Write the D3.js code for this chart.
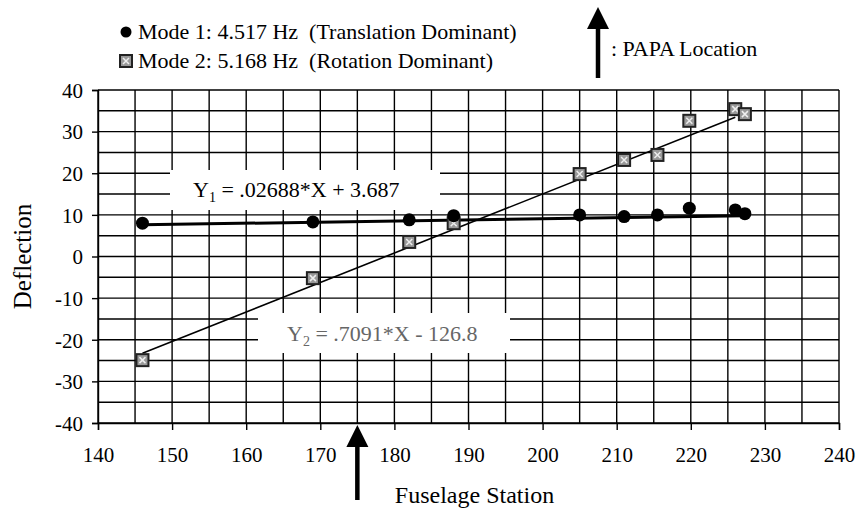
<!DOCTYPE html>
<html><head><meta charset="utf-8">
<script src="https://cdn.jsdelivr.net/npm/d3@7"></script>
<style>body{margin:0;background:#fff}svg{display:block}text{font-family:"Liberation Serif","Times New Roman",serif;fill:#000;white-space:pre}</style>
</head><body><svg id="c" width="860" height="517"></svg>
<script>
// ---- data ----
const mode1X = [146, 169, 182, 188, 205, 211, 215.5, 219.8, 226, 227.3];
const mode1Y = [8.0, 8.3, 8.8, 9.8, 10.0, 9.6, 10.0, 11.6, 11.2, 10.3];
const mode2X = [146, 169, 182, 188, 205, 211, 215.5, 219.8, 226, 227.3];
const mode2Y = [-24.9, -5.2, 3.5, 8.0, 19.8, 23.2, 24.4, 32.6, 35.4, 34.2];
const fit1 = [0.02688, 3.687];   // slope, intercept
const fit2 = [0.7091, -126.8];
const fitRange1 = [146, 227.3];
const fitRange2 = [146, 226];
const xTicks = [140,150,160,170,180,190,200,210,220,230,240];
const yTicks = [-40,-30,-20,-10,0,10,20,30,40];
const papaX = 175;
const legendLabels = ["Mode 1: 4.517 Hz  (Translation Dominant)", "Mode 2: 5.168 Hz  (Rotation Dominant)"];
const eq1 = ["Y", "1", " = .02688*X + 3.687"];
const eq2 = ["Y", "2", " = .7091*X - 126.8"];

const svg = d3.select("#c");
const L = 98, R = 839, T = 90, B = 423;
const x = d3.scaleLinear().domain([140, 240]).range([L, R]);
const y = d3.scaleLinear().domain([-40, 40]).range([B, T]);

// grid (every 5 units)
const g = svg.append("g").attr("stroke", "#000").attr("stroke-width", 1.4);
g.selectAll(".v").data(d3.range(140, 240.1, 5)).join("line")
  .attr("x1", d => x(d)).attr("x2", d => x(d)).attr("y1", y(-40)).attr("y2", y(40));
g.selectAll(".h").data(d3.range(-40, 40.1, 5)).join("line")
  .attr("y1", d => y(d)).attr("y2", d => y(d)).attr("x1", x(140)).attr("x2", x(240));

// axes
const fontT = 21;
const fmt = d => String(d);
const xa = svg.append("g").attr("transform", `translate(0,${B})`)
  .call(d3.axisBottom(x).tickValues(xTicks).tickSize(7).tickPadding(17).tickFormat(fmt));
const ya = svg.append("g").attr("transform", `translate(${L},0)`)
  .call(d3.axisLeft(y).tickValues(yTicks).tickSize(6).tickPadding(9).tickFormat(fmt));
[xa, ya].forEach(a => {
  a.select(".domain").attr("stroke", "#000").attr("stroke-width", 1.4);
  a.selectAll(".tick line").attr("stroke", "#000").attr("stroke-width", 1.4);
  a.selectAll(".tick text").attr("font-size", fontT).attr("font-family", '"Liberation Serif",serif').attr("fill", "#000");
});
ya.selectAll(".tick text").attr("dy", "0.35em");

// fit lines
svg.append("line")
  .attr("x1", x(fitRange2[0])).attr("y1", y(fit2[0]*fitRange2[0]+fit2[1]))
  .attr("x2", x(fitRange2[1])).attr("y2", y(fit2[0]*fitRange2[1]+fit2[1]))
  .attr("stroke", "#000").attr("stroke-width", 1.6);
svg.append("line")
  .attr("x1", x(fitRange1[0])).attr("y1", y(fit1[0]*fitRange1[0]+fit1[1]))
  .attr("x2", x(fitRange1[1])).attr("y2", y(fit1[0]*fitRange1[1]+fit1[1]))
  .attr("stroke", "#000").attr("stroke-width", 3);

// equation boxes
function eqLabel(parts, bx, by, bw, bh, tx, ty, col) {
  svg.append("rect").attr("x", bx).attr("y", by).attr("width", bw).attr("height", bh).attr("fill", "#fff");
  const t = svg.append("text").attr("x", tx).attr("y", ty).attr("font-size", 22).style("fill", col);
  t.append("tspan").text(parts[0]);
  t.append("tspan").attr("font-size", 14).attr("dy", 5).text(parts[1]);
  t.append("tspan").attr("dy", -5).text(parts[2]);
}
eqLabel(eq1, 170, 170, 270, 40, 193, 197, "#000");
eqLabel(eq2, 258, 313, 252, 40, 287, 341, "#666");

// points
function square(sel, px, py) {
  sel.append("rect").attr("x", px - 6).attr("y", py - 6).attr("width", 12).attr("height", 12)
    .attr("fill", "#999").attr("stroke", "#222").attr("stroke-width", 2);
  sel.append("path").attr("d", `M${px-3},${py-3}L${px+3},${py+3}M${px+3},${py-3}L${px-3},${py+3}`)
    .attr("stroke", "#eee").attr("stroke-width", 1.5);
}
mode2X.forEach((d, i) => square(svg, x(d), y(mode2Y[i])));
svg.selectAll(".m1").data(mode1X).join("circle")
  .attr("cx", d => x(d)).attr("cy", (d, i) => y(mode1Y[i])).attr("r", 6.5).attr("fill", "#000");

// legend
svg.append("circle").attr("cx", 126).attr("cy", 32).attr("r", 5.5).attr("fill", "#000");
square(svg, 126, 61);
svg.append("text").attr("x", 138).attr("y", 39).attr("font-size", 22).text(legendLabels[0]);
svg.append("text").attr("x", 138).attr("y", 68).attr("font-size", 22).text(legendLabels[1]);

// arrows
function arrow(xp, yTip, yTail, dir) {
  const h = 22 * dir, w = 11;
  svg.append("line").attr("x1", xp).attr("x2", xp).attr("y1", yTip + h * 0.8).attr("y2", yTail)
    .attr("stroke", "#000").attr("stroke-width", 4.5);
  svg.append("path").attr("d", `M${xp},${yTip}L${xp - w},${yTip + h}L${xp + w},${yTip + h}Z`).attr("fill", "#000");
}
arrow(598, 7, 78, 1);
svg.append("text").attr("x", 611).attr("y", 56).attr("font-size", 22).text(": PAPA Location");
arrow(x(papaX), 425, 500, 1);

// axis titles
svg.append("text").attr("x", (L + R) / 2 + 6).attr("y", 503).attr("text-anchor", "middle").attr("font-size", 24).text("Fuselage Station");
svg.append("text").attr("transform", `translate(31,${(T + B) / 2}) rotate(-90)`).attr("text-anchor", "middle").attr("font-size", 25).text("Deflection");
</script></body></html>
